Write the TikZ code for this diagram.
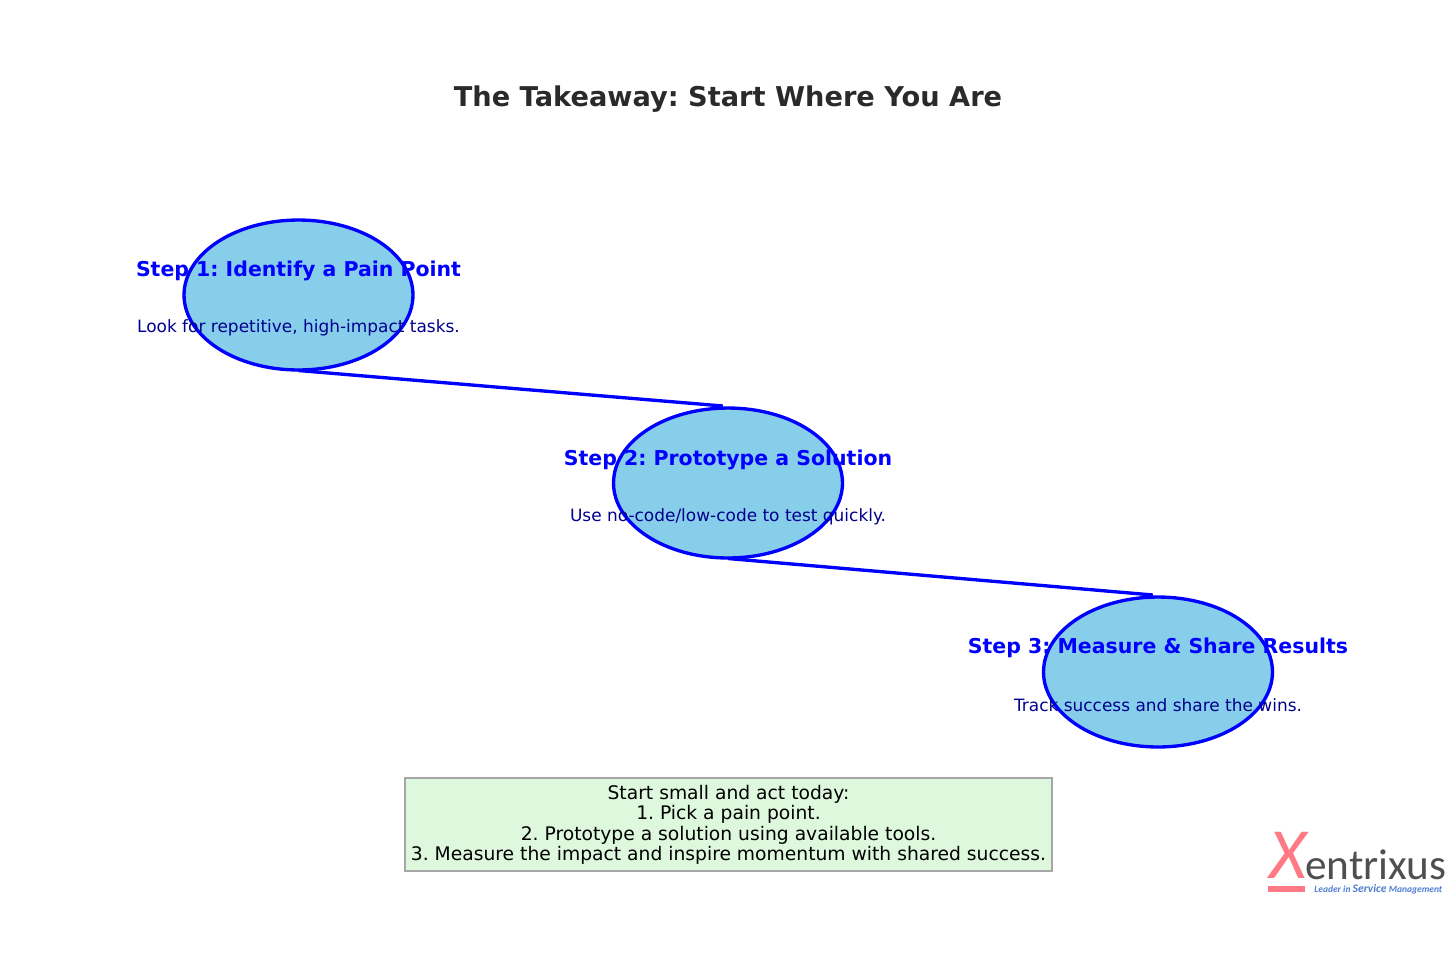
\documentclass[tikz,border=0pt]{standalone}
\usepackage{fontspec}
\setmainfont{DejaVu Sans}
\newfontfamily\logofont{Carlito}
\usepackage{xcolor}
\usetikzlibrary{positioning,shapes.geometric}
\frenchspacing

\definecolor{skyfill}{HTML}{87CEEB}
\definecolor{notefill}{HTML}{DDF8DD}
\definecolor{titlegray}{HTML}{2A2A2A}
\definecolor{logored}{HTML}{FF7A85}
\definecolor{logogray}{HTML}{4F4F4F}
\definecolor{logoblue}{HTML}{4F7FD0}

\tikzset{
    stepblob/.style={ellipse, draw=blue, fill=skyfill, line width=1.9pt, outer sep=0pt, inner sep=0pt, minimum width=4.58cm, minimum height=3cm},
    steptitle/.style={text=blue, font=\fontsize{11.65}{13}\selectfont\bfseries, inner sep=0pt},
    stepnote/.style={text=blue!55!black, font=\fontsize{9.65}{11}\selectfont, inner sep=0pt},
    link/.style={blue, line width=1.9pt},
}

\begin{document}
\begin{tikzpicture}[x=0.02cm, y=-0.02cm]
    \useasboundingbox (0,0) rectangle (1456,967);

    % Heading
    \node[font=\fontsize{15.5}{18}\selectfont\bfseries, text=titlegray, inner sep=0pt] (heading) at (728,99) {The Takeaway: Start Where You Are};

    % Steps
    \node[stepblob] (stepone) at (298.5,295) {};
    \node[stepblob] (steptwo) at (728,483) {};
    \node[stepblob] (stepthree) at (1158,672) {};

    % Links between the steps
    \draw[link] ([yshift=-0.3pt]stepone.south) -- ([yshift=1.2pt]steptwo.94.5);
    \draw[link] ([yshift=-0.3pt]steptwo.south) -- ([yshift=1.2pt]stepthree.94.5);

    % Step labels
    \node[steptitle] (titleone) at (298.5,271) {Step 1: Identify a Pain Point};
    \node[stepnote] (noteone) at (298.5,328) {Look for repetitive, high-impact tasks.};
    \node[steptitle] (titletwo) at (728,459.5) {Step 2: Prototype a Solution};
    \node[stepnote] (notetwo) at (728,516.5) {Use no-code/low-code to test quickly.};
    \node[steptitle] (titlethree) at (1158,648) {Step 3: Measure \& Share Results};
    \node[stepnote] (notethree) at (1158,705) {Track success and share the wins.};

    % Summary box
    \node[draw=black!35, line width=0.9pt, fill=notefill, minimum width=12.94cm, minimum height=1.86cm, inner sep=0pt, align=center,
          font=\fontsize{10.65}{11.55}\selectfont] (summary) at (728.5,824.7) {Start small and act today:\\1. Pick a pain point.\\2. Prototype a solution using available tools.\\3. Measure the impact and inspire momentum with shared success.};

    % Logo
    \node[text=logored, font=\logofont\itshape\fontsize{41}{41}\selectfont, inner sep=0pt, anchor=south] (logox) at (1288,878.5) {X};
    \fill[logored] (1268,886) rectangle (1305,892);
    \node[text=logogray, font=\logofont\fontsize{24.6}{26}\selectfont, inner sep=0pt, anchor=base west] (logoname) at (1305,879) {entrixus};
    \node[text=logoblue, font=\logofont\itshape\bfseries\fontsize{5.4}{6}\selectfont, inner sep=0pt, anchor=base west] (logotag) at (1314,892) {Leader in {\fontsize{6.6}{6}\selectfont Service} Management};
\end{tikzpicture}
\end{document}
